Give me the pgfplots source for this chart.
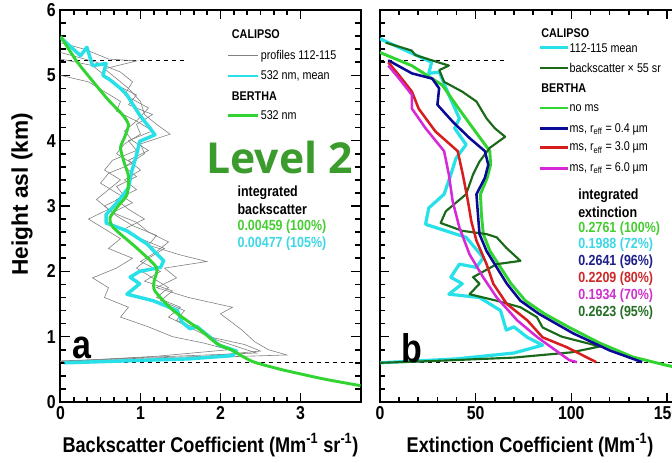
\documentclass[border=0pt]{standalone}
\usepackage{pgfplots}
\pgfplotsset{compat=1.18}
\usepackage{fontspec}
\setmainfont{Liberation Sans}
\newfontfamily\cond{Liberation Sans}[FakeStretch=0.85]
\newfontfamily\lvfont{Open Sans}
\definecolor{cyanL}{RGB}{40,225,232}
\definecolor{greenL}{RGB}{50,212,50}
\definecolor{navyL}{RGB}{10,10,150}
\definecolor{redL}{RGB}{215,30,30}
\definecolor{magL}{RGB}{215,40,215}
\definecolor{dgreenL}{RGB}{25,105,25}
\definecolor{lvgreen}{RGB}{60,155,45}
\definecolor{tgreen}{RGB}{70,205,50}
\definecolor{tcyan}{RGB}{60,215,230}
\definecolor{tnavy}{RGB}{30,30,140}
\definecolor{tred}{RGB}{205,40,40}
\definecolor{tmag}{RGB}{205,50,205}
\definecolor{tdgreen}{RGB}{35,110,35}
\pgfplotsset{
  panel/.style={
    scale only axis, height=294pt,
    ymin=0, ymax=6,
    axis line style={line width=1.5pt},
    every tick/.style={line width=1.2pt, black},
    major tick length=7pt, minor tick length=4pt,
    tick align=inside,
    xtick pos=both, ytick pos=both,
    ytick={0,1,2,3,4,5,6}, minor y tick num=4,
    tick label style={font=\cond\bfseries\fontsize{14}{14}\selectfont},
    /pgf/number format/assume math mode=true,
    xlabel style={font=\cond\bfseries\fontsize{16}{16}\selectfont},
  },
}
\tikzset{
  lg/.style={font=\cond\fontsize{9.5}{9.5}\selectfont, anchor=west, inner sep=0pt},
  lgh/.style={font=\cond\bfseries\fontsize{9.5}{9.5}\selectfont, anchor=west, inner sep=0pt},
  it/.style={font=\cond\bfseries\fontsize{11}{11}\selectfont, anchor=west, inner sep=0pt},
}
\begin{document}
\begin{tikzpicture}
\useasboundingbox (0,0) rectangle (504pt,346.5pt);
\clip (0,0) rectangle (504pt,346.5pt);
% ---------------- panel a ----------------
\begin{axis}[panel, at={(45.375pt,45pt)}, anchor=south west, width=225pt,
  xmin=0, xmax=3.75, xtick={0,1,2,3}, minor x tick num=5,
  xlabel={Backscatter Coefficient (Mm\textsuperscript{-1} sr\textsuperscript{-1})},
  xlabel style={at={(axis description cs:0.5,-0.11)}, anchor=center},
  ylabel={Height asl (km)},
  ylabel style={font=\bfseries\fontsize{17}{17}\selectfont, at={(axis description cs:-0.128,0.53)}, anchor=center},
]
\addplot[black, dashed, line width=0.5pt] coordinates {(0,0.6) (3.75,0.6)};
\addplot[black, dashed, line width=0.5pt] coordinates {(0,5.23) (1.55,5.23)};
% profiles 112-115
\addplot[gray, line width=0.45pt] coordinates {(0.00,5.50)(0.30,5.40)(0.60,5.25)(0.95,5.22)(0.55,5.10)(0.70,4.95)(0.85,4.80)(1.00,4.60)(1.05,4.40)(1.20,4.25)(1.37,4.10)(1.00,3.95)(1.05,3.80)(0.80,3.60)(0.95,3.45)(0.70,3.30)(0.80,3.15)(0.55,3.00)(0.70,2.85)(0.90,2.70)(1.20,2.55)(1.10,2.40)(1.50,2.25)(1.83,2.15)(1.30,2.05)(1.45,1.90)(1.20,1.75)(1.60,1.60)(2.15,1.45)(2.00,1.35)(2.27,1.10)(2.43,0.92)(2.60,0.80)(2.83,0.72)(1.50,0.67)(0.00,0.62)};
\addplot[gray, line width=0.45pt] coordinates {(0.00,5.35)(0.45,5.20)(0.75,5.05)(0.90,4.90)(0.80,4.70)(1.10,4.50)(0.95,4.30)(1.15,4.15)(0.85,4.00)(0.95,3.85)(0.65,3.70)(0.55,3.55)(0.75,3.40)(0.60,3.25)(0.45,3.10)(0.60,2.95)(0.35,2.80)(0.55,2.65)(0.75,2.50)(0.60,2.35)(0.90,2.20)(0.70,2.05)(0.40,1.90)(0.60,1.75)(0.55,1.60)(0.85,1.45)(0.75,1.30)(1.10,1.15)(1.40,1.00)(1.80,0.90)(2.10,0.80)(1.20,0.70)(0.00,0.62)};
\addplot[gray, line width=0.45pt] coordinates {(0.00,5.25)(0.40,5.15)(0.55,5.00)(0.70,4.85)(0.95,4.70)(0.85,4.55)(1.15,4.40)(0.95,4.25)(1.00,4.10)(0.80,3.95)(0.70,3.80)(0.90,3.65)(0.60,3.50)(0.50,3.35)(0.70,3.20)(0.90,3.05)(0.65,2.90)(0.95,2.75)(1.10,2.60)(1.35,2.45)(1.20,2.30)(1.00,2.15)(1.25,2.00)(1.05,1.85)(1.40,1.70)(1.25,1.55)(1.55,1.40)(1.45,1.25)(1.75,1.10)(1.95,0.95)(2.20,0.85)(2.45,0.75)(1.00,0.68)(0.00,0.62)};
\addplot[gray, line width=0.45pt] coordinates {(0.00,5.00)(0.35,4.90)(0.55,4.75)(0.75,4.60)(0.70,4.45)(0.95,4.30)(0.80,4.15)(0.90,4.00)(1.10,3.85)(0.85,3.70)(1.00,3.55)(0.80,3.40)(0.95,3.25)(0.70,3.10)(0.85,2.95)(1.05,2.80)(0.80,2.65)(1.00,2.50)(1.30,2.35)(1.10,2.20)(0.95,2.05)(1.15,1.90)(1.35,1.75)(1.20,1.60)(1.50,1.45)(1.35,1.30)(1.60,1.15)(1.85,1.00)(2.30,0.88)(2.50,0.78)(1.80,0.70)(0.00,0.63)};
% CALIPSO mean
\addplot[cyanL, line width=2.6pt, line join=round] coordinates {(0.00,5.58)(0.25,5.30)(0.33,5.43)(0.40,5.15)(0.57,5.18)(0.53,5.00)(0.62,4.93)(0.75,4.80)(0.83,4.70)(0.99,4.39)(1.12,4.19)(1.18,4.09)(0.99,3.99)(0.95,3.78)(0.89,3.53)(0.85,3.28)(0.72,3.07)(0.57,2.87)(0.57,2.74)(0.83,2.62)(1.08,2.42)(1.29,2.16)(1.25,2.06)(0.99,2.00)(0.87,1.91)(0.99,1.81)(0.83,1.65)(1.16,1.55)(1.46,1.40)(1.52,1.22)(1.62,1.12)(1.70,1.16)(1.87,0.99)(1.98,0.87)(2.20,0.78)(2.15,0.71)(1.60,0.66)(0.05,0.60)};
% BERTHA
\addplot[greenL, line width=2.2pt, smooth, tension=0.4] coordinates {(0.00,5.60)(0.20,5.22)(0.41,4.90)(0.60,4.62)(0.78,4.39)(0.85,4.24)(0.80,4.05)(0.75,3.89)(0.80,3.65)(0.85,3.45)(0.83,3.17)(0.72,3.00)(0.62,2.82)(0.66,2.67)(0.95,2.36)(1.20,2.06)(1.17,1.85)(1.18,1.70)(1.41,1.40)(1.75,1.10)(1.96,0.89)(2.13,0.80)(2.40,0.62)(2.75,0.50)(3.00,0.43)(3.30,0.35)(3.75,0.25)};
% legend
\node[lgh] at (axis cs:2.14,5.63) {CALIPSO};
\draw[gray, line width=0.45pt] (axis cs:2.09,5.30) -- (axis cs:2.47,5.30);
\node[lg] at (axis cs:2.50,5.30) {profiles 112-115};
\draw[cyanL, line width=2.2pt] (axis cs:2.09,4.99) -- (axis cs:2.47,4.99);
\node[lg] at (axis cs:2.50,4.99) {532 nm, mean};
\node[lgh] at (axis cs:2.14,4.68) {BERTHA};
\draw[greenL, line width=2.2pt] (axis cs:2.09,4.39) -- (axis cs:2.47,4.39);
\node[lg] at (axis cs:2.50,4.39) {532 nm};
\node[it] at (axis cs:2.21,3.21) {integrated};
\node[it] at (axis cs:2.21,2.95) {backscatter};
\node[it, text=tgreen] at (axis cs:2.21,2.68) {0.00459 (100\%)};
\node[it, text=tcyan] at (axis cs:2.21,2.42) {0.00477 (105\%)};
\node[font=\cond\bfseries\fontsize{30}{30}\selectfont] at (axis cs:0.27,0.83) {a};
\node[font=\lvfont\bfseries\fontsize{32}{32}\selectfont, text=lvgreen] at (axis cs:2.74,3.75) {Level 2};
\end{axis}
% ---------------- panel b ----------------
\begin{axis}[panel, at={(285pt,45pt)}, anchor=south west, width=229.6pt,
  xmin=0, xmax=160, xtick={0,50,100,150}, minor x tick num=4,
  yticklabels={},
  xlabel={Extinction Coefficient (Mm\textsuperscript{-1})},
  xlabel style={at={(axis description cs:0.49,-0.11)}, anchor=center},
]
\addplot[black, dashed, line width=0.5pt] coordinates {(0,0.6) (160,0.6)};
\addplot[black, dashed, line width=0.5pt] coordinates {(0,5.23) (65,5.23)};
\addplot[cyanL, line width=2.4pt, line join=round] coordinates {(0,5.56)(15,5.36)(27,5.20)(25.5,5.03)(31,5.05)(36,4.70)(41.5,4.34)(39,4.19)(45,3.94)(39.7,3.73)(37,3.48)(33.5,3.18)(25.5,2.97)(23.8,2.72)(34.4,2.62)(45,2.52)(54,2.21)(50.4,2.06)(41.5,2.11)(37,1.91)(43,1.81)(36,1.65)(52,1.60)(63,1.40)(66,1.10)(70,1.15)(77,0.99)(85,0.87)(70,0.75)(40,0.66)(0,0.60)};
\addplot[greenL, line width=2.2pt, line join=round] coordinates {(0,5.35)(16.5,5.15)(32.6,4.85)(39.7,4.55)(48.6,4.19)(57.4,3.84)(57.8,3.63)(56,3.43)(52.5,3.18)(53,2.87)(54,2.57)(57.5,2.31)(63,2.06)(68.5,1.81)(76,1.55)(86,1.35)(99,1.14)(115,0.90)(132,0.69)(150,0.56)(160,0.50)};
\addplot[dgreenL, line width=1.6pt, line join=round] coordinates {(3,5.50)(16.5,5.38)(18.5,5.31)(32.5,5.18)(36,5.15)(31,5.08)(33.5,4.90)(43,4.75)(50.4,4.60)(55.7,4.34)(60,4.19)(65.4,4.06)(57.4,3.89)(52,3.68)(48.6,3.48)(45,3.18)(34.4,2.92)(31.7,2.74)(43,2.62)(55.7,2.57)(61,2.52)(66,2.36)(73.4,2.16)(61,2.11)(48.6,1.91)(52,1.81)(46.8,1.65)(61,1.55)(73.4,1.45)(82,1.30)(85,1.14)(95,1.00)(115,0.85)(100,0.76)(70,0.68)(30,0.63)(0,0.60)};
\addplot[navyL, line width=1.9pt, line join=round] coordinates {(4.3,5.23)(16.7,5.03)(27.3,4.95)(30.9,4.80)(30,4.55)(38,4.29)(46.8,4.04)(54.8,3.84)(56.6,3.63)(54.8,3.43)(50.4,3.18)(51.2,2.87)(52,2.57)(55.7,2.31)(61,2.06)(66.3,1.81)(73.4,1.55)(83,1.35)(101,1.05)(120,0.79)(137,0.61)};
\addplot[redL, line width=1.9pt, line join=round] coordinates {(4.3,5.20)(10,5.00)(16.7,4.75)(20.2,4.49)(29,4.14)(40.6,3.84)(43.3,3.48)(46,3.07)(47.7,2.77)(50.4,2.47)(55.7,2.11)(59.2,1.81)(66.3,1.50)(77,1.25)(85,0.99)(97.5,0.84)(113,0.61)};
\addplot[magL, line width=1.9pt, line join=round] coordinates {(4.3,5.15)(10,4.95)(16.7,4.70)(16.7,4.49)(23.8,4.19)(33.5,3.84)(36,3.48)(38,3.07)(41.5,2.67)(46.8,2.26)(53.9,1.91)(61,1.60)(71.7,1.25)(82.3,0.99)(99,0.64)(103,0.61)};
% legend
\node[lgh] at (axis cs:84.2,5.65) {CALIPSO};
\draw[cyanL, line width=2.2pt] (axis cs:83.6,5.42) -- (axis cs:98.3,5.42);
\node[lg] at (axis cs:99,5.42) {112-115 mean};
\draw[dgreenL, line width=1.6pt] (axis cs:83.6,5.11) -- (axis cs:98.3,5.11);
\node[lg] at (axis cs:99,5.11) {backscatter × 55 sr};
\node[lgh] at (axis cs:84.2,4.81) {BERTHA};
\draw[greenL, line width=2.2pt] (axis cs:83.6,4.50) -- (axis cs:98.3,4.50);
\node[lg] at (axis cs:99,4.50) {no ms};
\draw[navyL, line width=2.2pt] (axis cs:83.6,4.18) -- (axis cs:98.3,4.18);
\node[lg] at (axis cs:99,4.18) {ms, r\textsubscript{eff} = 0.4 µm};
\draw[redL, line width=2.2pt] (axis cs:83.6,3.89) -- (axis cs:98.3,3.89);
\node[lg] at (axis cs:99,3.89) {ms, r\textsubscript{eff} = 3.0 µm};
\draw[magL, line width=2.2pt] (axis cs:83.6,3.58) -- (axis cs:98.3,3.58);
\node[lg] at (axis cs:99,3.58) {ms, r\textsubscript{eff} = 6.0 µm};
\node[it] at (axis cs:103.5,3.15) {integrated};
\node[it] at (axis cs:103.5,2.91) {extinction};
\node[it, text=tgreen] at (axis cs:103.5,2.66) {0.2761 (100\%)};
\node[it, text=tcyan] at (axis cs:103.5,2.40) {0.1988 (72\%)};
\node[it, text=tnavy] at (axis cs:103.5,2.14) {0.2641 (96\%)};
\node[it, text=tred] at (axis cs:103.5,1.88) {0.2209 (80\%)};
\node[it, text=tmag] at (axis cs:103.5,1.62) {0.1934 (70\%)};
\node[it, text=tdgreen] at (axis cs:103.5,1.36) {0.2623 (95\%)};
\node[font=\cond\bfseries\fontsize{30}{30}\selectfont] at (axis cs:16.7,0.83) {b};
\end{axis}
\end{tikzpicture}
\end{document}
